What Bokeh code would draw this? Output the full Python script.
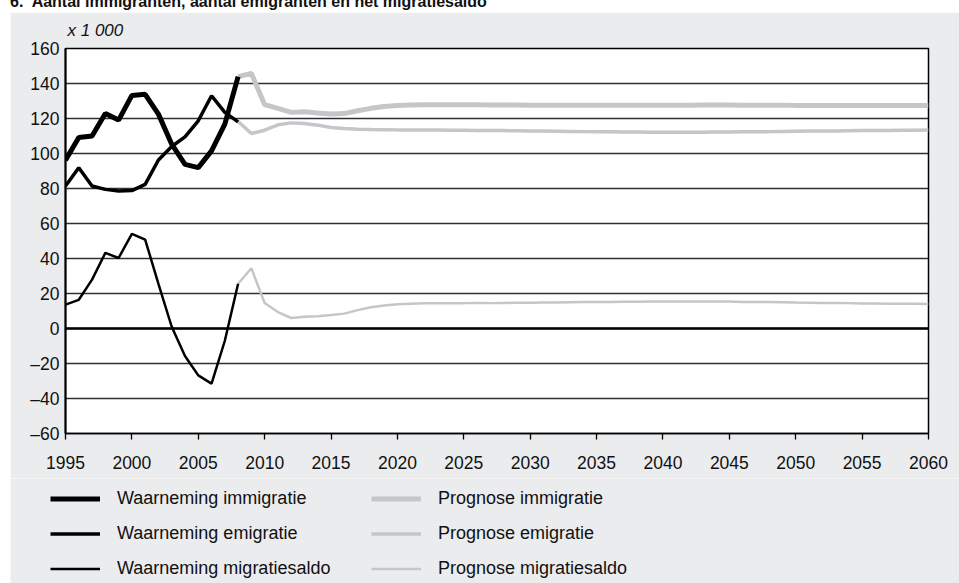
from bokeh.plotting import figure
from bokeh.layouts import column
from bokeh.models import Range1d, FixedTicker, Span, Legend, LegendItem, Div
from bokeh.embed import file_html
from bokeh.resources import INLINE

# ---------------- data (x 1 000) ----------------
obs_years = list(range(1995, 2009))
obs_immigration = [96.2, 109.1, 110.0, 122.9, 119.1, 133.2, 133.8, 122.5, 105.3, 93.8, 91.9, 101.5, 116.8, 143.9]
obs_emigration = [81.4, 91.9, 81.4, 79.5, 78.6, 78.8, 82.4, 96.3, 104.0, 109.5, 118.7, 133.0, 123.5, 118.1]
obs_saldo = [13.6, 16.4, 27.9, 43.2, 40.3, 54.1, 50.8, 25.5, 1.0, -15.7, -26.8, -31.5, -7.0, 25.6]

prog_years = list(range(2008, 2061))
prog_immigration = [143.9, 145.8, 127.9, 125.8, 123.5, 123.9, 123.2, 122.6, 122.8, 124.4,
                    125.8, 126.8, 127.4, 127.7, 127.8, 127.8, 127.8, 127.8, 127.8, 127.7,
                    127.7, 127.7, 127.6, 127.6, 127.6, 127.6, 127.6, 127.6, 127.6, 127.6,
                    127.6, 127.6, 127.6, 127.6, 127.6, 127.7, 127.7, 127.7, 127.6, 127.6,
                    127.6, 127.6, 127.5, 127.5, 127.5, 127.5, 127.5, 127.4, 127.4, 127.4,
                    127.4, 127.4, 127.4]
prog_emigration = [118.3, 111.4, 113.3, 116.4, 117.5, 117.2, 116.2, 114.9, 114.3, 113.9,
                   113.7, 113.6, 113.5, 113.5, 113.4, 113.4, 113.3, 113.3, 113.2, 113.2,
                   113.1, 113.0, 112.9, 112.8, 112.7, 112.6, 112.5, 112.4, 112.4, 112.3,
                   112.3, 112.2, 112.2, 112.2, 112.2, 112.2, 112.3, 112.3, 112.4, 112.5,
                   112.5, 112.6, 112.7, 112.8, 112.9, 112.9, 113.0, 113.1, 113.1, 113.2,
                   113.3, 113.3, 113.4]
prog_saldo = [25.6, 34.4, 14.6, 9.4, 6.0, 6.7, 7.0, 7.7, 8.5, 10.5,
              12.1, 13.2, 13.9, 14.2, 14.4, 14.4, 14.5, 14.5, 14.6, 14.5,
              14.6, 14.7, 14.7, 14.8, 14.9, 15.0, 15.1, 15.2, 15.2, 15.3,
              15.3, 15.4, 15.4, 15.4, 15.4, 15.5, 15.4, 15.4, 15.2, 15.1,
              15.1, 15.0, 14.8, 14.7, 14.6, 14.6, 14.5, 14.3, 14.3, 14.2,
              14.1, 14.1, 14.0]

x_ticks = [1995, 2000, 2005, 2010, 2015, 2020, 2025, 2030, 2035, 2040, 2045, 2050, 2055, 2060]
y_ticks = [-60, -40, -20, 0, 20, 40, 60, 80, 100, 120, 140, 160]
y_tick_labels = ["–60", "–40", "–20", "0", "20", "40", "60", "80", "100", "120", "140", "160"]

title_text = "6.&nbsp; Aantal immigranten, aantal emigranten en het migratiesaldo"
unit_text = "x 1 000"
legend_labels = ["Waarneming immigratie", "Waarneming emigratie", "Waarneming migratiesaldo",
                 "Prognose immigratie", "Prognose emigratie", "Prognose migratiesaldo"]

# ---------------- styling ----------------
FONT = "Liberation Sans"
BLACK = "#000000"
GREY = "#C6C6CA"
PANEL = "#EBECEE"

# chart part of the grey panel: page x 10..959, y 12..478
W, H1 = 949, 466
BL, BR, BT, BB = 55, 31, 36, 45
H2 = 105                # legend part: page y 478..583

p = figure(width=W, height=H1, output_backend="svg", toolbar_location=None,
           x_range=Range1d(1995, 2060), y_range=Range1d(-60, 160),
           min_border_left=BL, min_border_right=BR, min_border_top=BT, min_border_bottom=BB)
p.margin = (0, 0, 0, 10)

p.background_fill_color = "white"
p.border_fill_color = PANEL
p.outline_line_color = BLACK
p.outline_line_width = 1.5

# unit label above the frame
p.title.text = unit_text
p.title.align = "left"
p.title.vertical_align = "top"
p.title.offset = 2
p.title.standoff = 14
p.title.text_font = FONT
p.title.text_font_style = "italic"
p.title.text_font_size = "17px"
p.title.text_color = "#111111"

# grid / axes
p.xgrid.visible = False
p.ygrid.ticker = FixedTicker(ticks=y_ticks)
p.ygrid.grid_line_color = "#303030"
p.ygrid.grid_line_width = 1.3

p.xaxis.ticker = FixedTicker(ticks=x_ticks)
p.xaxis.major_tick_out = 6
p.xaxis.major_tick_in = 0
p.xaxis.minor_tick_line_color = None
p.xaxis.major_tick_line_color = BLACK
p.xaxis.major_tick_line_width = 1.3
p.xaxis.axis_line_color = BLACK
p.xaxis.axis_line_width = 1.5
p.xaxis.major_label_standoff = 16

p.yaxis.ticker = FixedTicker(ticks=y_ticks)
p.yaxis.major_label_overrides = {t: l for t, l in zip(y_ticks, y_tick_labels)}
p.yaxis.major_tick_out = 0
p.yaxis.major_tick_in = 0
p.yaxis.minor_tick_line_color = None
p.yaxis.axis_line_color = BLACK
p.yaxis.axis_line_width = 2
p.yaxis.major_label_standoff = 6

for ax in (p.xaxis[0], p.yaxis[0]):
    ax.major_label_text_font = FONT
    ax.major_label_text_font_size = "17.5px"
    ax.major_label_text_color = "#111111"

# lines
series = [
    (obs_years, obs_immigration, BLACK, 5),
    (obs_years, obs_emigration, BLACK, 3.5),
    (obs_years, obs_saldo, BLACK, 2.5),
    (prog_years, prog_immigration, GREY, 5),
    (prog_years, prog_emigration, GREY, 3.5),
    (prog_years, prog_saldo, GREY, 2.5),
]
for xs, ys, c, w in series[3:] + series[:3]:
    p.line(xs, ys, line_color=c, line_width=w)

p.add_layout(Span(location=0, dimension="width", line_color=BLACK, line_width=2.5))

# ---------------- legend (separate grey strip below the chart) ----------------
lg = figure(width=W, height=H2, output_backend="svg", toolbar_location=None,
            x_range=Range1d(0, 1), y_range=Range1d(0, 1),
            x_axis_type=None, y_axis_type=None,
            min_border_left=0, min_border_right=0, min_border_top=0, min_border_bottom=0)
lg.margin = (0, 0, 0, 10)
lg.background_fill_color = PANEL
lg.border_fill_color = PANEL
lg.outline_line_color = None
lg.xgrid.visible = False
lg.ygrid.visible = False

# same series again in the legend strip (they fall outside its 0..1 ranges, only the keys show)
legend_renderers = [lg.line(xs, ys, line_color=c, line_width=w) for xs, ys, c, w in series]
items = [LegendItem(label=l, renderers=[r]) for l, r in zip(legend_labels, legend_renderers)]
legend = Legend(items=items, ncols=2, nrows=3, orientation="vertical",
                location=(40, 4.5),
                glyph_width=50, glyph_height=21, label_standoff=17, label_width=240,
                label_height=21, spacing=14, padding=0, margin=0,
                border_line_color=None, background_fill_alpha=0,
                label_text_font=FONT, label_text_font_size="18px", label_text_color="#111111")
lg.add_layout(legend, "center")

title_div = Div(
    text=('<div style="position:relative; top:-9px; left:10px; white-space:nowrap; '
          'font-family:\'Liberation Sans\'; font-weight:bold; font-size:16px; color:#111111;">'
          + title_text + '</div>'),
    width=959, height=12, margin=(0, 0, 0, 0))

layout = column(title_div, p, column(lg, spacing=0), spacing=0)
open("out.html", "w").write(file_html(layout, INLINE))
